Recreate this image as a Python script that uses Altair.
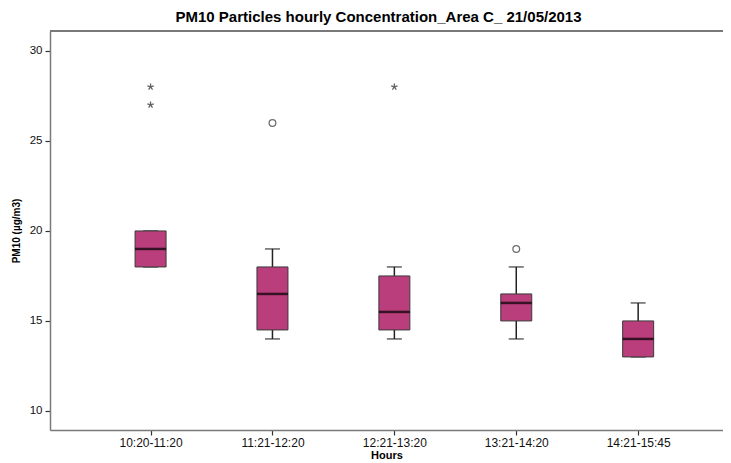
import json
import altair as alt
import pandas as pd

hours = ["10:20-11:20", "11:21-12:20", "12:21-13:20", "13:21-14:20", "14:21-15:45"]
lower_whisker = [18, 14, 14, 14, 13]
q1 = [18, 14.5, 14.5, 15, 13]
median = [19, 16.5, 15.5, 16, 14]
q3 = [20, 18, 17.5, 16.5, 15]
upper_whisker = [20, 19, 18, 18, 16]

outlier_hour = ["11:21-12:20", "13:21-14:20"]
outlier_value = [26, 19]
extreme_hour = ["10:20-11:20", "10:20-11:20", "12:21-13:20"]
extreme_value = [28, 27, 28]

idx = {h: i for i, h in enumerate(hours)}
boxes = pd.DataFrame({
    "i": list(range(len(hours))), "hour": hours,
    "lo": lower_whisker, "q1": q1, "med": median, "q3": q3, "hi": upper_whisker,
})
outl = pd.DataFrame({"i": [idx[h] for h in outlier_hour], "v": outlier_value})
extr = pd.DataFrame({"i": [idx[h] for h in extreme_hour], "v": extreme_value})

W, H = 673, 399
FILL = "#BA3E7C"
FRAME = "#7a7a7a"
FONT = "Liberation Sans"

label_expr = json.dumps(hours) + "[datum.value]"

xscale = alt.Scale(domain=[-0.784, 4.655], nice=False, zero=False)
yscale = alt.Scale(domain=[8.94, 31.11], nice=False, zero=False)

xaxis = alt.Axis(
    title="Hours", values=[0, 1, 2, 3, 4], labelExpr=label_expr, grid=False,
    domainColor=FRAME, domainWidth=1.5, tickColor="#333333", tickSize=5, tickWidth=1.2,
    labelFont=FONT, labelFontSize=12, labelColor="#111111", labelPadding=2,
    titleFont=FONT, titleFontSize=11, titleFontWeight="bold", titleColor="#000000",
    titlePadding=1,
)
yaxis = alt.Axis(
    title="PM10 (µg/m3)", values=[10, 15, 20, 25, 30], grid=False,
    domainColor=FRAME, domainWidth=1.5, tickColor="#333333", tickSize=5, tickWidth=1.2,
    labelFont=FONT, labelFontSize=11.5, labelColor="#111111", labelPadding=3,
    titleFont=FONT, titleFontSize=10, titleFontWeight="bold",
    titleColor="#000000", titlePadding=8,
)

base = alt.Chart(boxes)
x = alt.X("i:Q", scale=xscale, axis=xaxis)

whisk_up = base.mark_rule(color="#222222", strokeWidth=1.5).encode(
    x=x, y=alt.Y("q3:Q", scale=yscale, axis=yaxis), y2="hi:Q")
whisk_lo = base.mark_rule(color="#222222", strokeWidth=1.5).encode(
    x="i:Q", y="lo:Q", y2="q1:Q")
cap_hi = base.mark_tick(orient="horizontal", size=15, thickness=1.5, color="#222222").encode(
    x="i:Q", y="hi:Q")
cap_lo = base.mark_tick(orient="horizontal", size=15, thickness=1.5, color="#222222").encode(
    x="i:Q", y="lo:Q")
box = base.mark_bar(size=31, fill=FILL, stroke="#3a3a3a", strokeWidth=1).encode(
    x="i:Q", y="q1:Q", y2="q3:Q")
med = base.mark_tick(orient="horizontal", size=31, thickness=2.5, color="#000000").encode(
    x="i:Q", y="med:Q")

circles = alt.Chart(outl).mark_point(shape="circle", filled=False, size=45,
                                     stroke="#333333", strokeWidth=1.3).encode(
    x="i:Q", y="v:Q")
star_path = "M0,-1L0,0M0,0L0.95,-0.31M0,0L-0.95,-0.31M0,0L0.59,0.81M0,0L-0.59,0.81"
stars = alt.Chart(extr).mark_point(shape=star_path, filled=False, size=45,
                                   stroke="#222222", strokeWidth=1.3).encode(
    x="i:Q", y="v:Q")

top_line = alt.Chart(boxes).mark_rule(color=FRAME, strokeWidth=1.5).encode(
    y=alt.value(0), x=alt.value(0), x2=alt.value(W))

chart = alt.layer(
    top_line, whisk_up, whisk_lo, cap_hi, cap_lo, box, med, circles, stars
).properties(
    width=W, height=H,
    title=alt.TitleParams(
        "PM10 Particles hourly Concentration_Area C_ 21/05/2013",
        font=FONT, fontSize=15, fontWeight="bold", color="#000000",
        dx=-8, offset=5,
    ),
    autosize=alt.AutoSizeParams(type="none"),
    padding={"left": 42, "top": 23, "right": 0, "bottom": 31},
).configure_view(strokeWidth=0, stroke="transparent").configure(background="white")

chart.save("out.html", embed_options={"renderer": "svg", "actions": False})
